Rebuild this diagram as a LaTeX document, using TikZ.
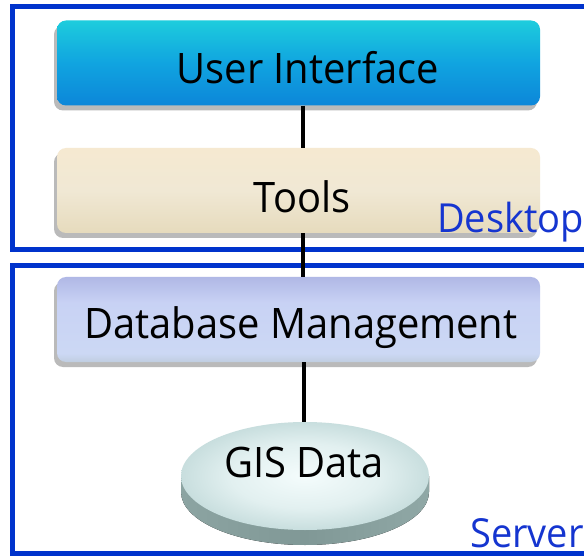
\documentclass[tikz,border=0pt]{standalone}
\usepackage{fontspec}
\setmainfont[FakeStretch=0.95]{Open Sans}
\usetikzlibrary{shadows,shapes.geometric}
\definecolor{frameblue}{HTML}{0033CC}
\definecolor{textblue}{HTML}{1535D0}
\definecolor{uiA}{HTML}{0050BC}\definecolor{uiB}{HTML}{0A72D4}\definecolor{uiC}{HTML}{10A4E0}\definecolor{uiD}{HTML}{20D4DC}\definecolor{uiE}{HTML}{18D4D0}\definecolor{uiF}{HTML}{10C8B0}
\definecolor{tlA}{HTML}{D0C098}\definecolor{tlB}{HTML}{E4D8B8}\definecolor{tlC}{HTML}{F0E8D4}\definecolor{tlD}{HTML}{F8EAD0}\definecolor{tlE}{HTML}{FCE8C8}
\definecolor{dbA}{HTML}{809880}\definecolor{dbB}{HTML}{A8B8B8}\definecolor{dbC}{HTML}{CCD8F4}\definecolor{dbD}{HTML}{C8D2F4}\definecolor{dbE}{HTML}{A0A6DC}\definecolor{dbF}{HTML}{7880C0}
\definecolor{gsA}{HTML}{F4FCFC}\definecolor{gsB}{HTML}{E2F0F0}\definecolor{gsC}{HTML}{C8DEDE}\definecolor{gsD}{HTML}{B0CCCC}
\definecolor{sdA}{HTML}{98B0AE}\definecolor{sdB}{HTML}{809896}\definecolor{sdC}{HTML}{A0B8B6}
\pgfdeclareverticalshading{uishade}{100bp}{color(0bp)=(uiA); color(8bp)=(uiB); color(50bp)=(uiC); color(80bp)=(uiD); color(92bp)=(uiE); color(100bp)=(uiF)}
\pgfdeclareverticalshading{toolshade}{100bp}{color(0bp)=(tlA); color(20bp)=(tlB); color(50bp)=(tlC); color(85bp)=(tlD); color(100bp)=(tlE)}
\pgfdeclareverticalshading{dbshade}{100bp}{color(0bp)=(dbA); color(15bp)=(dbB); color(30bp)=(dbC); color(60bp)=(dbD); color(85bp)=(dbE); color(100bp)=(dbF)}
\pgfdeclareradialshading{gisshade}{\pgfpoint{0bp}{0bp}}{color(0bp)=(gsA); color(15bp)=(gsB); color(25bp)=(gsC); color(50bp)=(gsD)}
\pgfdeclarehorizontalshading{sideshade}{100bp}{color(0bp)=(sdA); color(50bp)=(sdB); color(100bp)=(sdC)}
\tikzset{
  layer/.style={rounded corners=9pt, minimum width=483pt, minimum height=85pt, inner sep=0pt,
    drop shadow={shadow xshift=-3pt, shadow yshift=-5pt, opacity=0.45, fill=black!60}},
  label/.style={anchor=base, font=\fontsize{42}{50}\selectfont, inner sep=0pt},
  frame/.style={draw=frameblue, line width=5pt},
  link/.style={line width=4pt, black},
  tag/.style={text=textblue, font=\fontsize{40}{48}\selectfont, inner sep=0pt, anchor=base east}
}
\begin{document}
\begin{tikzpicture}[x=1pt,y=1pt]
\useasboundingbox (0,0) rectangle (584,-556);
\fill[white] (0,0) rectangle (584,-556);
\begin{scope}
\clip (0,0) rectangle (584,-556);
\draw[frame] (12.5,-7) rectangle (640,-250);
\draw[frame] (12.5,-266) rectangle (640,-553.5);
\end{scope}
% disc side
\fill[shading=sideshade] (181,-476) -- (181,-492) arc[start angle=180, end angle=360, x radius=124, y radius=53] -- (429,-476) -- cycle;
\node[ellipse, shading=gisshade, minimum width=248pt, minimum height=108pt, inner sep=0pt] (gis) at (305,-476) {};
\node[label] (gist) at (304,-477) {GIS Data};
\node[layer, shading=uishade] (ui) at (298.5,-63) {};
\node[label] (uit) at (308,-84) {User Interface};
\node[layer, shading=toolshade] (tools) at (298.5,-190.5) {};
\node[label] (toolst) at (302,-213) {Tools};
\node[layer, shading=dbshade] (db) at (298.5,-319.5) {};
\node[label] (dbt) at (301,-338) {Database Management};
\node[tag] (desk) at (584,-233) {Desktop};
\node[tag] (serv) at (584,-547) {Server};
\draw[link] ([xshift=4.5pt]ui.south) -- ([xshift=4.5pt]tools.north);
\draw[link] ([xshift=4.5pt]tools.south) -- ([xshift=4.5pt]db.north);
\draw[link] ([xshift=5.5pt]db.south) -- (gis.north -| 304,0);
\end{tikzpicture}
\end{document}
